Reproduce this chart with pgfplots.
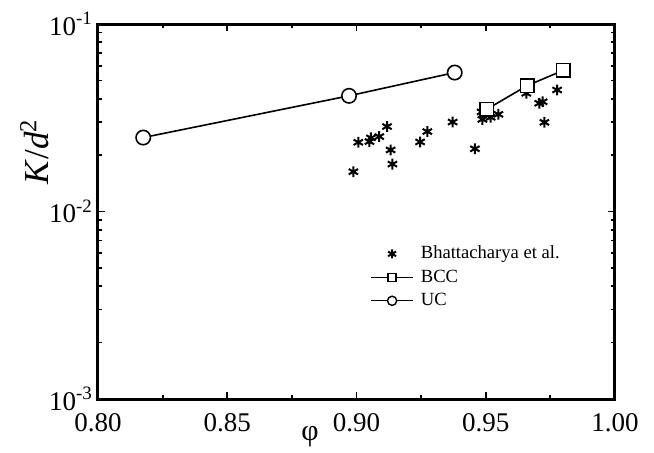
\documentclass[border=0pt]{standalone}
\usepackage{fontspec}
\setmainfont{Liberation Serif}
\usepackage{pgfplots}
\pgfplotsset{compat=1.18}
\begin{document}
\begin{tikzpicture}
\useasboundingbox (-49pt,-26.5pt) rectangle (278pt,199.5pt);
\begin{axis}[
  at={(0pt,0pt)}, anchor=south west,
  scale only axis, width=258.5pt, height=187.5pt,
  xmin=0.8, xmax=1.0, ymode=log, ymin=1e-3, ymax=1e-1,
  xtick={0.8,0.85,0.9,0.95,1.0},
  xticklabels={0.80,0.85,0.90,0.95,1.00},
  minor x tick num=1,
  ytick={1e-3,1e-2,1e-1},
  yticklabels={10\textsuperscript{-3},10\textsuperscript{-2},10\textsuperscript{-1}},
  ticklabel style={font=\fontsize{13.5}{13.5}\selectfont},
  xticklabel style={yshift=-3.5pt},
  yticklabel style={xshift=1pt},
  tick align=inside,
  major tick length=3.5pt, minor tick length=2pt,
  every tick/.style={black, line width=0.9pt},
  axis line style={line width=1.5pt},
  xlabel={φ},
  xlabel style={font=\fontsize{15}{15}\selectfont, at={(axis description cs:0.41,-0.101)}, anchor=center},
  ylabel={\textit{K}/\textit{d}\textsuperscript{2}},
  ylabel style={font=\fontsize{17.5}{17.5}\selectfont, at={(axis description cs:-0.095,0.66)}, anchor=base},
  legend style={draw=none, fill=none, at={(axis description cs:0.526,0.42)}, anchor=north west,
    font=\fontsize{9.3}{12}\selectfont, row sep=0pt, inner sep=0pt,
    nodes={inner xsep=3.5pt}},
  legend cell align=left,
  legend image code/.code={\draw[mark repeat=2,mark phase=2,#1] plot coordinates {(0cm,0cm) (0.37cm,0cm) (0.74cm,0cm)};},
]
\addplot[forget plot, only marks, mark=asterisk, mark size=2.7pt, line width=1pt, black] coordinates {
(0.8988,0.0163) (0.9007,0.0234) (0.9050,0.0236) (0.9056,0.0247) (0.9088,0.0251)
(0.9118,0.0284) (0.9132,0.0213) (0.9139,0.0179) (0.9246,0.0235) (0.9274,0.0267)
(0.9372,0.0300) (0.9458,0.0216) (0.9487,0.0310) (0.9484,0.0340) (0.9519,0.0318)
(0.9549,0.0330) (0.9657,0.0427) (0.9707,0.0378) (0.9720,0.0385) (0.9727,0.0299)
(0.9776,0.0445)
};
\addplot[forget plot, black, line width=0.8pt, mark=square*, mark size=3.4pt, mark options={fill=white, line width=0.8pt}] coordinates {
(0.9504,0.0351) (0.966,0.0469) (0.980,0.0566)
};
\addplot[forget plot, black, line width=0.8pt, mark=*, mark size=3.6pt, mark options={fill=white, line width=0.8pt}] coordinates {
(0.8175,0.0248) (0.8971,0.0414) (0.938,0.0551)
};
\addlegendimage{only marks, mark=asterisk, mark size=2.3pt, line width=1pt, black}
\addlegendentry{Bhattacharya et al.}
\addlegendimage{black, line width=0.7pt, mark=square*, mark size=2pt, mark options={fill=white, line width=0.7pt}}
\addlegendentry{BCC}
\addlegendimage{black, line width=0.7pt, mark=*, mark size=2.3pt, mark options={fill=white, line width=0.7pt}}
\addlegendentry{UC}
\end{axis}
\end{tikzpicture}
\end{document}
